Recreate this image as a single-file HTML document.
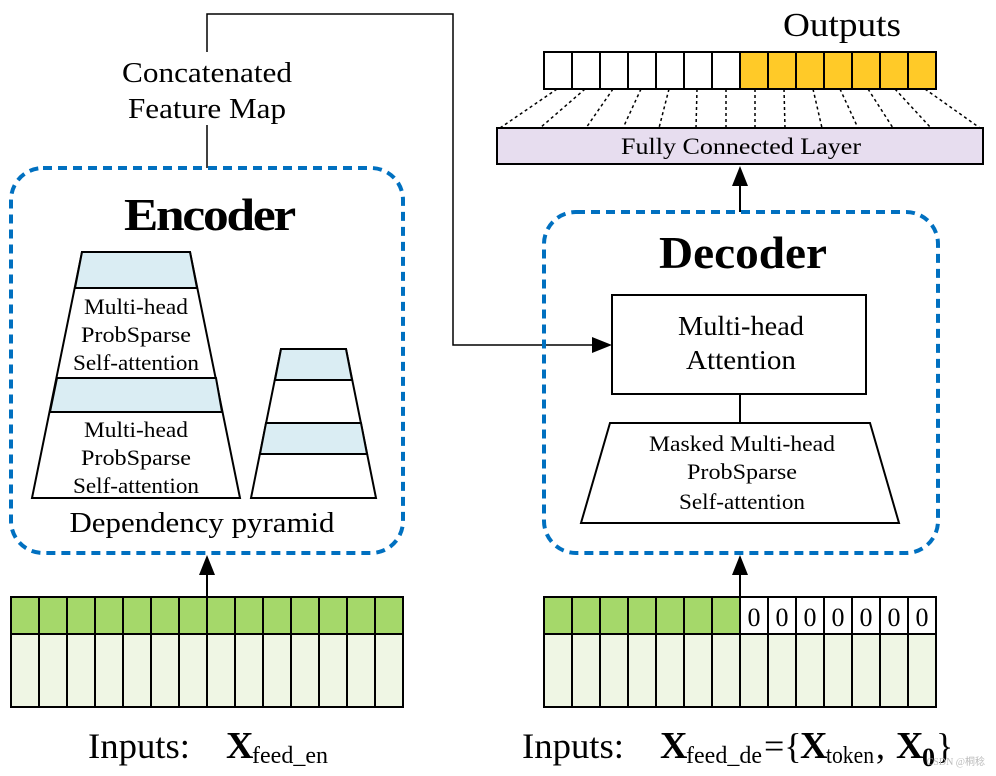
<!DOCTYPE html>
<html><head><style>body{margin:0;background:#fff}svg{display:block}text{font-family:"Liberation Serif",serif;fill:#000}</style></head><body>
<svg width="996" height="776" viewBox="0 0 996 776" xmlns="http://www.w3.org/2000/svg">
<defs><marker id="a" markerWidth="10" markerHeight="10" refX="9" refY="5" orient="auto" markerUnits="userSpaceOnUse"><path d="M0,0 L10,5 L0,10 z" fill="#000"/></marker>
<marker id="b" markerWidth="20" markerHeight="16" refX="19" refY="8" orient="auto" markerUnits="userSpaceOnUse"><path d="M0,0 L20,8 L0,16 z" fill="#000"/></marker></defs>

<!-- concat line -->
<polyline points="207,52 207,14 453,14 453,345 594,345" fill="none" stroke="#000" stroke-width="1.5"/>
<path d="M592,337 L612,345 L592,353 z"/>
<line x1="207" y1="125" x2="207" y2="168" stroke="#000" stroke-width="1.5"/>
<text x="207" y="82" font-size="29" text-anchor="middle" textLength="170" lengthAdjust="spacingAndGlyphs">Concatenated</text>
<text x="207" y="118" font-size="29" text-anchor="middle" textLength="158" lengthAdjust="spacingAndGlyphs">Feature Map</text>

<!-- encoder box -->
<rect x="11" y="168" width="392" height="385" rx="32" fill="none" stroke="#0070C0" stroke-width="4" stroke-dasharray="9,6"/>
<text x="209" y="230" font-size="46" font-weight="bold" text-anchor="middle" textLength="170" lengthAdjust="spacingAndGlyphs" letter-spacing="-2">Encoder</text>
<!-- big trapezoid -->
<polygon points="82,252 190,252 240,498 32,498" fill="#fff" stroke="#000" stroke-width="2"/>
<polygon points="82,252 190,252 197,288 75,288" fill="#DAEDF3" stroke="#000" stroke-width="2"/>
<polygon points="57,378 216,378 222,412 50,412" fill="#DAEDF3" stroke="#000" stroke-width="2"/>
<g font-size="22" text-anchor="middle">
<text x="136" y="314" textLength="104" lengthAdjust="spacingAndGlyphs">Multi-head</text>
<text x="136" y="342" textLength="110" lengthAdjust="spacingAndGlyphs">ProbSparse</text>
<text x="136" y="370" textLength="126" lengthAdjust="spacingAndGlyphs">Self-attention</text>
<text x="136" y="437" textLength="104" lengthAdjust="spacingAndGlyphs">Multi-head</text>
<text x="136" y="465" textLength="110" lengthAdjust="spacingAndGlyphs">ProbSparse</text>
<text x="136" y="493" textLength="126" lengthAdjust="spacingAndGlyphs">Self-attention</text>
</g>
<polygon points="281,349 346,349 376,498 251,498" fill="#fff" stroke="#000" stroke-width="2"/>
<polygon points="281,349 346,349 352,380 275,380" fill="#DAEDF3" stroke="#000" stroke-width="2"/>
<polygon points="266,423 361,423 367,454 260,454" fill="#DAEDF3" stroke="#000" stroke-width="2"/>
<text x="202" y="532" font-size="28" text-anchor="middle" textLength="265" lengthAdjust="spacingAndGlyphs">Dependency pyramid</text>

<!-- decoder box -->
<rect x="544" y="212" width="394" height="341" rx="32" fill="none" stroke="#0070C0" stroke-width="4" stroke-dasharray="9,6"/>
<text x="743" y="268" font-size="46" font-weight="bold" text-anchor="middle" textLength="168" lengthAdjust="spacingAndGlyphs">Decoder</text>
<rect x="612" y="295" width="254" height="99" fill="#fff" stroke="#000" stroke-width="2"/>
<text x="741" y="335" font-size="27" text-anchor="middle" textLength="126" lengthAdjust="spacingAndGlyphs">Multi-head</text>
<text x="741" y="369" font-size="27" text-anchor="middle" textLength="110" lengthAdjust="spacingAndGlyphs">Attention</text>
<line x1="740" y1="394" x2="740" y2="423" stroke="#000" stroke-width="2"/>
<polygon points="610,423 870,423 899,523 581,523" fill="#fff" stroke="#000" stroke-width="2"/>
<g font-size="22" text-anchor="middle">
<text x="742" y="451" textLength="186" lengthAdjust="spacingAndGlyphs">Masked Multi-head</text>
<text x="742" y="479" textLength="110" lengthAdjust="spacingAndGlyphs">ProbSparse</text>
<text x="742" y="509" textLength="126" lengthAdjust="spacingAndGlyphs">Self-attention</text>
</g>

<!-- arrows -->
<line x1="207" y1="597" x2="207" y2="570" stroke="#000" stroke-width="2"/>
<path d="M199,575 L207,555 L215,575 z"/>
<line x1="740" y1="597" x2="740" y2="570" stroke="#000" stroke-width="2"/>
<path d="M732,575 L740,555 L748,575 z"/>
<line x1="740" y1="212" x2="740" y2="185" stroke="#000" stroke-width="2"/>
<path d="M732,186 L740,166 L748,186 z"/>

<!-- FC layer -->
<rect x="497" y="128" width="486" height="36" fill="#E7DDEF" stroke="#000" stroke-width="2"/>
<text x="741" y="154" font-size="23" text-anchor="middle" textLength="240" lengthAdjust="spacingAndGlyphs">Fully Connected Layer</text>
<g stroke="#000" stroke-width="1.5" stroke-dasharray="3,3">
<line x1="557" y1="89" x2="500" y2="128"/><line x1="585" y1="89" x2="540" y2="128"/>
<line x1="613" y1="89" x2="586" y2="128"/><line x1="641" y1="89" x2="623" y2="128"/>
<line x1="669" y1="89" x2="659" y2="128"/><line x1="697" y1="89" x2="696" y2="128"/>
<line x1="726" y1="89" x2="726" y2="128"/><line x1="755" y1="89" x2="755" y2="128"/>
<line x1="784" y1="89" x2="785" y2="128"/><line x1="813" y1="89" x2="822" y2="128"/>
<line x1="840" y1="89" x2="858" y2="128"/><line x1="868" y1="89" x2="893" y2="128"/>
<line x1="895" y1="89" x2="931" y2="128"/><line x1="925" y1="89" x2="980" y2="128"/>
</g>
<text x="842" y="36" font-size="34" text-anchor="middle" textLength="118" lengthAdjust="spacingAndGlyphs">Outputs</text>
<g stroke="#000" stroke-width="2">
<rect x="544" y="52" width="28" height="37" fill="#fff"/><rect x="572" y="52" width="28" height="37" fill="#fff"/>
<rect x="600" y="52" width="28" height="37" fill="#fff"/><rect x="628" y="52" width="28" height="37" fill="#fff"/>
<rect x="656" y="52" width="28" height="37" fill="#fff"/><rect x="684" y="52" width="28" height="37" fill="#fff"/>
<rect x="712" y="52" width="28" height="37" fill="#fff"/><rect x="740" y="52" width="28" height="37" fill="#FFCA28"/>
<rect x="768" y="52" width="28" height="37" fill="#FFCA28"/><rect x="796" y="52" width="28" height="37" fill="#FFCA28"/>
<rect x="824" y="52" width="28" height="37" fill="#FFCA28"/><rect x="852" y="52" width="28" height="37" fill="#FFCA28"/>
<rect x="880" y="52" width="28" height="37" fill="#FFCA28"/><rect x="908" y="52" width="28" height="37" fill="#FFCA28"/>
</g>

<!-- encoder inputs -->
<rect x="11" y="597" width="392" height="37" fill="#A5D86A" stroke="#000" stroke-width="2"/>
<rect x="11" y="634" width="392" height="73" fill="#EFF6E4" stroke="#000" stroke-width="2"/>
<g stroke="#000" stroke-width="2">
<line x1="39" y1="597" x2="39" y2="707"/><line x1="67" y1="597" x2="67" y2="707"/><line x1="95" y1="597" x2="95" y2="707"/><line x1="123" y1="597" x2="123" y2="707"/><line x1="151" y1="597" x2="151" y2="707"/><line x1="179" y1="597" x2="179" y2="707"/><line x1="207" y1="597" x2="207" y2="707"/><line x1="235" y1="597" x2="235" y2="707"/><line x1="263" y1="597" x2="263" y2="707"/><line x1="291" y1="597" x2="291" y2="707"/><line x1="319" y1="597" x2="319" y2="707"/><line x1="347" y1="597" x2="347" y2="707"/><line x1="375" y1="597" x2="375" y2="707"/>
</g>
<!-- decoder inputs -->
<rect x="544" y="597" width="196" height="37" fill="#A5D86A" stroke="#000" stroke-width="2"/>
<rect x="740" y="597" width="196" height="37" fill="#fff" stroke="#000" stroke-width="2"/>
<rect x="544" y="634" width="392" height="73" fill="#EFF6E4" stroke="#000" stroke-width="2"/>
<g stroke="#000" stroke-width="2">
<line x1="572" y1="597" x2="572" y2="707"/><line x1="600" y1="597" x2="600" y2="707"/><line x1="628" y1="597" x2="628" y2="707"/><line x1="656" y1="597" x2="656" y2="707"/><line x1="684" y1="597" x2="684" y2="707"/><line x1="712" y1="597" x2="712" y2="707"/><line x1="740" y1="597" x2="740" y2="707"/><line x1="768" y1="597" x2="768" y2="707"/><line x1="796" y1="597" x2="796" y2="707"/><line x1="824" y1="597" x2="824" y2="707"/><line x1="852" y1="597" x2="852" y2="707"/><line x1="880" y1="597" x2="880" y2="707"/><line x1="908" y1="597" x2="908" y2="707"/>
</g>
<g font-size="26" text-anchor="middle">
<text x="754" y="626">0</text><text x="782" y="626">0</text><text x="810" y="626">0</text><text x="838" y="626">0</text><text x="866" y="626">0</text><text x="894" y="626">0</text><text x="922" y="626">0</text>
</g>

<!-- labels -->
<text x="88" y="758" font-size="36" textLength="102" lengthAdjust="spacingAndGlyphs">Inputs:</text>
<text x="226" y="758" font-size="38" font-weight="bold">X</text>
<text x="252" y="763" font-size="24" textLength="76" lengthAdjust="spacingAndGlyphs">feed_en</text>
<text x="522" y="758" font-size="36" textLength="102" lengthAdjust="spacingAndGlyphs">Inputs:</text>
<text x="660" y="758" font-size="38" font-weight="bold">X</text>
<text x="686" y="763" font-size="24" textLength="76" lengthAdjust="spacingAndGlyphs">feed_de</text>
<text x="764" y="758" font-size="36">={</text>
<text x="800" y="758" font-size="38" font-weight="bold">X</text>
<text x="826" y="763" font-size="24" textLength="48" lengthAdjust="spacingAndGlyphs">token</text>
<text x="876" y="758" font-size="36">,</text>
<text x="896" y="758" font-size="38" font-weight="bold">X</text>
<text x="922" y="766" font-size="26" font-weight="bold">0</text>
<text x="936" y="758" font-size="36">}</text>
<text x="985" y="765" font-size="10" text-anchor="end" fill="#bbb" style="fill:#bbb">CSDN @桐稔</text>
</svg>
</body></html>
